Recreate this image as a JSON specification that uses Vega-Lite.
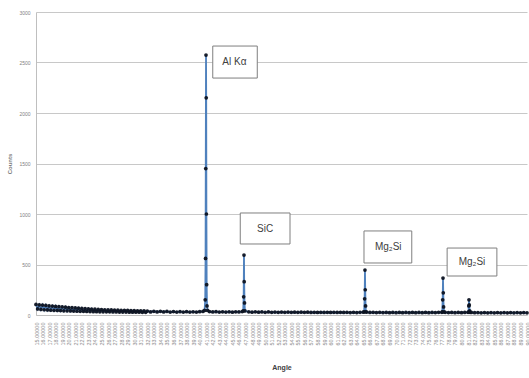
{
  "$schema": "https://vega.github.io/schema/vega-lite/v6.json",
  "width": 491,
  "height": 303,
  "autosize": {"type": "none"},
  "padding": {"left": 36, "top": 12, "right": 2, "bottom": 63},
  "background": "white",
  "config": {"view": {"stroke": null}, "font": "Liberation Sans", "axis": {"labelOverlap": false}, "axisQuantitative": {"labelOverlap": false}},
  "datasets": {
    "xrd": [
      {"a":15,"c":105},{"a":15.25,"c":60},{"a":15.5,"c":100},{"a":15.75,"c":55},{"a":16,"c":98},{"a":16.25,"c":52},{"a":16.5,"c":95},{"a":16.75,"c":50},{"a":17,"c":90},{"a":17.25,"c":48},
      {"a":17.5,"c":88},{"a":17.75,"c":46},{"a":18,"c":85},{"a":18.25,"c":45},{"a":18.5,"c":82},{"a":18.75,"c":44},{"a":19,"c":80},{"a":19.25,"c":42},{"a":19.5,"c":77},{"a":19.75,"c":41},
      {"a":20,"c":74},{"a":20.25,"c":40},{"a":20.5,"c":72},{"a":20.75,"c":39},{"a":21,"c":70},{"a":21.25,"c":38},{"a":21.5,"c":67},{"a":21.75,"c":37},{"a":22,"c":65},{"a":22.25,"c":36},
      {"a":22.5,"c":63},{"a":22.75,"c":35},{"a":23,"c":61},{"a":23.25,"c":34},{"a":23.5,"c":59},{"a":23.75,"c":33},{"a":24,"c":57},{"a":24.25,"c":33},{"a":24.5,"c":55},{"a":24.75,"c":32},
      {"a":25,"c":54},{"a":25.25,"c":32},{"a":25.5,"c":52},{"a":25.75,"c":31},{"a":26,"c":51},{"a":26.25,"c":31},{"a":26.5,"c":50},{"a":26.75,"c":30},{"a":27,"c":49},{"a":27.25,"c":30},
      {"a":27.5,"c":48},{"a":27.75,"c":29},{"a":28,"c":47},{"a":28.25,"c":29},{"a":28.5,"c":46},{"a":28.75,"c":29},{"a":29,"c":45},{"a":29.25,"c":28},{"a":29.5,"c":44},{"a":29.75,"c":28},
      {"a":30,"c":43},{"a":30.25,"c":28},{"a":30.5,"c":42},{"a":30.75,"c":28},{"a":31,"c":41},{"a":31.25,"c":27},{"a":31.5,"c":40},{"a":31.75,"c":27},{"a":32,"c":39},{"a":32.5,"c":30},
      {"a":33,"c":37},{"a":33.5,"c":30},{"a":34,"c":36},{"a":34.5,"c":30},{"a":35,"c":35},{"a":35.5,"c":29},{"a":36,"c":34},{"a":36.5,"c":29},{"a":37,"c":33},{"a":37.5,"c":29},
      {"a":38,"c":33},{"a":38.5,"c":29},{"a":39,"c":32},{"a":39.5,"c":29},{"a":40,"c":33},{"a":40.5,"c":35},
      {"a":40.75,"c":45},{"a":40.85,"c":150},{"a":40.9,"c":560},{"a":40.93,"c":1450},{"a":40.97,"c":2574},{"a":41.0,"c":2150},{"a":41.03,"c":1000},{"a":41.07,"c":300},{"a":41.12,"c":90},{"a":41.2,"c":45},
      {"a":41.5,"c":34},{"a":42,"c":30},{"a":42.5,"c":33},{"a":43,"c":29},{"a":43.5,"c":32},{"a":44,"c":29},{"a":44.5,"c":32},{"a":45,"c":28},{"a":45.5,"c":31},{"a":46,"c":30},
      {"a":46.5,"c":34},{"a":46.65,"c":40},{"a":46.72,"c":180},{"a":46.77,"c":594},{"a":46.8,"c":330},{"a":46.85,"c":120},{"a":46.92,"c":40},
      {"a":47.5,"c":31},{"a":48,"c":28},{"a":48.5,"c":31},{"a":49,"c":28},{"a":49.5,"c":30},{"a":50,"c":27},{"a":50.5,"c":30},{"a":51,"c":27},{"a":51.5,"c":29},{"a":52,"c":27},
      {"a":52.5,"c":29},{"a":53,"c":26},{"a":53.5,"c":29},{"a":54,"c":26},{"a":54.5,"c":28},{"a":55,"c":26},{"a":55.5,"c":28},{"a":56,"c":26},{"a":56.5,"c":28},{"a":57,"c":25},
      {"a":57.5,"c":27},{"a":58,"c":25},{"a":58.5,"c":27},{"a":59,"c":25},{"a":59.5,"c":27},{"a":60,"c":25},{"a":60.5,"c":27},{"a":61,"c":25},{"a":61.5,"c":27},{"a":62,"c":25},
      {"a":62.5,"c":26},{"a":63,"c":24},{"a":63.5,"c":26},{"a":64,"c":24},{"a":64.5,"c":27},{"a":65,"c":28},
      {"a":65.12,"c":32},{"a":65.2,"c":160},{"a":65.25,"c":445},{"a":65.29,"c":250},{"a":65.34,"c":90},{"a":65.4,"c":32},
      {"a":65.5,"c":29},{"a":66,"c":25},{"a":66.5,"c":26},{"a":67,"c":24},{"a":67.5,"c":26},{"a":68,"c":24},{"a":68.5,"c":25},{"a":69,"c":23},{"a":69.5,"c":25},{"a":70,"c":23},
      {"a":70.5,"c":25},{"a":71,"c":23},{"a":71.5,"c":25},{"a":72,"c":23},{"a":72.5,"c":25},{"a":73,"c":23},{"a":73.5,"c":25},{"a":74,"c":23},{"a":74.5,"c":25},{"a":75,"c":23},
      {"a":75.5,"c":25},{"a":76,"c":24},{"a":76.5,"c":26},{"a":77,"c":27},
      {"a":77.05,"c":30},{"a":77.12,"c":150},{"a":77.17,"c":366},{"a":77.21,"c":220},{"a":77.26,"c":80},{"a":77.33,"c":30},
      {"a":77.5,"c":27},{"a":78,"c":24},{"a":78.5,"c":25},{"a":79,"c":23},{"a":79.5,"c":25},{"a":80,"c":23},{"a":80.5,"c":25},{"a":81,"c":26},
      {"a":81.05,"c":28},{"a":81.11,"c":90},{"a":81.14,"c":150},{"a":81.18,"c":100},{"a":81.24,"c":40},{"a":81.3,"c":27},
      {"a":81.5,"c":25},{"a":82,"c":23},{"a":82.5,"c":24},{"a":83,"c":22},{"a":83.5,"c":24},{"a":84,"c":22},{"a":84.5,"c":24},{"a":85,"c":22},{"a":85.5,"c":24},{"a":86,"c":22},
      {"a":86.5,"c":24},{"a":87,"c":22},{"a":87.5,"c":24},{"a":88,"c":22},{"a":88.5,"c":24},{"a":89,"c":22},{"a":89.5,"c":24},{"a":90,"c":22}
    ],
    "notes": [
      {"label":"Al Kα","x1":42.0,"x2":48.8,"y1":2346,"y2":2663,"tx":45.3,"ty":2505},
      {"label":"SiC","x1":46.2,"x2":53.8,"y1":703,"y2":1010,"tx":50.0,"ty":856},
      {"label":"Mg₂Si","x1":65.1,"x2":72.4,"y1":515,"y2":832,"tx":68.8,"ty":673},
      {"label":"Mg₂Si","x1":77.8,"x2":85.4,"y1":386,"y2":663,"tx":81.6,"ty":525}
    ]
  },
  "layer": [
    {
      "data": {"name": "xrd"},
      "mark": {"type": "line", "color": "#4f81bd", "strokeWidth": 1.8},
      "encoding": {
        "x": {
          "field": "a", "type": "quantitative",
          "scale": {"domain": [15, 90], "nice": false, "zero": false},
          "axis": {
            "title": "Angle", "titleFontSize": 7, "titleColor": "#404040", "titleFontWeight": "bold", "titlePadding": 19,
            "labelAngle": 270, "labelFontSize": 5.5, "labelColor": "#8a8a8a", "format": ".5f",
            "labelOverlap": false, "labelBound": false, "labelFlush": false,
            "tickCount": 75,
            "grid": false, "ticks": false, "domainColor": "#bfbfbf", "labelPadding": 7
          }
        },
        "y": {
          "field": "c", "type": "quantitative",
          "scale": {"domain": [0, 3000], "nice": false},
          "axis": {
            "title": "Counts", "titleFontSize": 6, "titleColor": "#7f7f7f", "titleFontWeight": "bold", "titlePadding": 6,
            "values": [0,500,1000,1500,2000,2500,3000], "format": "d",
            "labelFontSize": 5, "labelColor": "#7f7f7f", "labelPadding": 6,
            "grid": true, "gridColor": "#c8c8c8", "gridWidth": 1,
            "ticks": false, "domainColor": "#bfbfbf"
          }
        }
      }
    },
    {
      "data": {"name": "xrd"},
      "mark": {"type": "point", "filled": true, "color": "#0d1321", "size": 14, "opacity": 0.95},
      "encoding": {
        "x": {"field": "a", "type": "quantitative"},
        "y": {"field": "c", "type": "quantitative"}
      }
    },
    {
      "data": {"name": "notes"},
      "mark": {"type": "rect", "fill": "white", "stroke": "#7f7f7f", "strokeWidth": 1},
      "encoding": {
        "x": {"field": "x1", "type": "quantitative"},
        "x2": {"field": "x2"},
        "y": {"field": "y1", "type": "quantitative"},
        "y2": {"field": "y2"}
      }
    },
    {
      "data": {"name": "notes"},
      "mark": {"type": "text", "fontSize": 10, "color": "#404040", "align": "center", "baseline": "middle"},
      "encoding": {
        "x": {"field": "tx", "type": "quantitative"},
        "y": {"field": "ty", "type": "quantitative"},
        "text": {"field": "label"}
      }
    }
  ]
}
